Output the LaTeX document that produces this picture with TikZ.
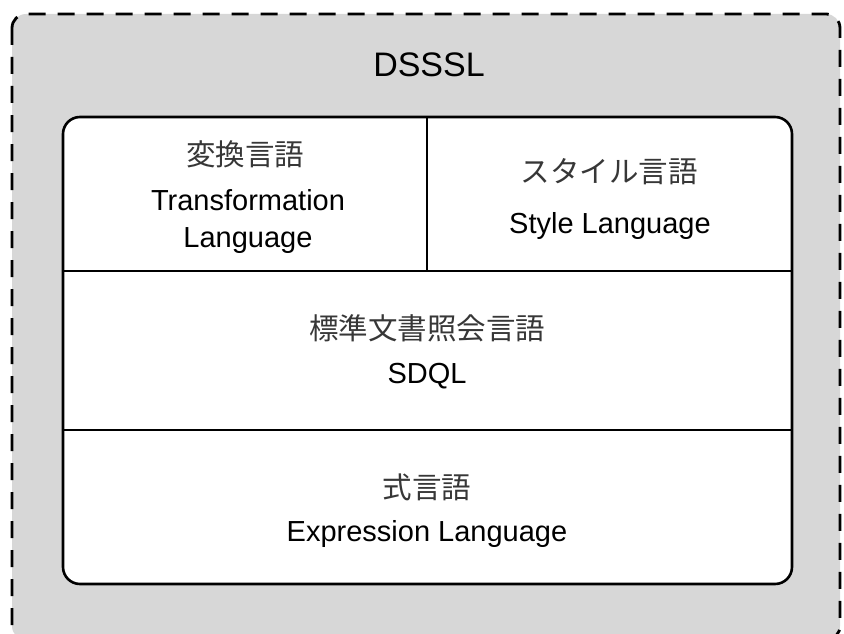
\documentclass[tikz,border=0pt]{standalone}
\usepackage{fontspec}
\setmainfont{Liberation Sans}
\newfontfamily\jpfont{Noto Sans CJK JP}
\usetikzlibrary{positioning}

\definecolor{outerfill}{RGB}{215,215,215}
\definecolor{jpgray}{RGB}{55,55,55}

\tikzset{
  outerbox/.style={draw=black, fill=outerfill, line width=2.8pt, dash pattern=on 17pt off 12pt, rounded corners=14pt},
  layerbox/.style={draw=black, fill=white, line width=2.6pt, rounded corners=17pt},
  divider/.style={draw=black, line width=2pt},
  jp/.style={font=\jpfont\fontsize{29.5}{34}\selectfont, text=jpgray},
  en/.style={font=\fontsize{29}{32}\selectfont, text=black, anchor=base, inner sep=0pt},
}

\begin{document}
\begin{tikzpicture}[x=1pt,y=-1pt]
\useasboundingbox (0,0) rectangle (844,634);
\clip (0,0) rectangle (844,634);

% outer DSSSL frame
\draw[outerbox] (12,14) rectangle (840,640);
\node[en, font=\fontsize{34}{40}\selectfont] (dsssl) at (429,77) {DSSSL};

% inner layers
\draw[layerbox] (63,117) rectangle (792,584);
\coordinate (midtop) at (427,117);
\coordinate (midbot) at (427,271);
\coordinate (row1l) at (63,271);
\coordinate (row1r) at (792,271);
\coordinate (row2l) at (63,430);
\coordinate (row2r) at (792,430);
\draw[divider] (midtop) -- (midbot);
\draw[divider] (row1l) -- (row1r);
\draw[divider] (row2l) -- (row2r);

% transformation language
\node[jp] (xformjp) at (245,154) {変換言語};
\node[en] (xformen) at (248,210) {Transformation};
\node[en] (xformen2) at (248,247) {Language};

% style language
\node[jp] (stylejp) at (609,172) {スタイル言語};
\node[en] (styleen) at (610,233) {Style Language};

% SDQL
\node[jp] (sdqljp) at (427,328) {標準文書照会言語};
\node[en] (sdqlen) at (427,383) {SDQL};

% expression language
\node[jp] (exprjp) at (427,487) {式言語};
\node[en] (expren) at (427,541) {Expression Language};
\end{tikzpicture}
\end{document}
